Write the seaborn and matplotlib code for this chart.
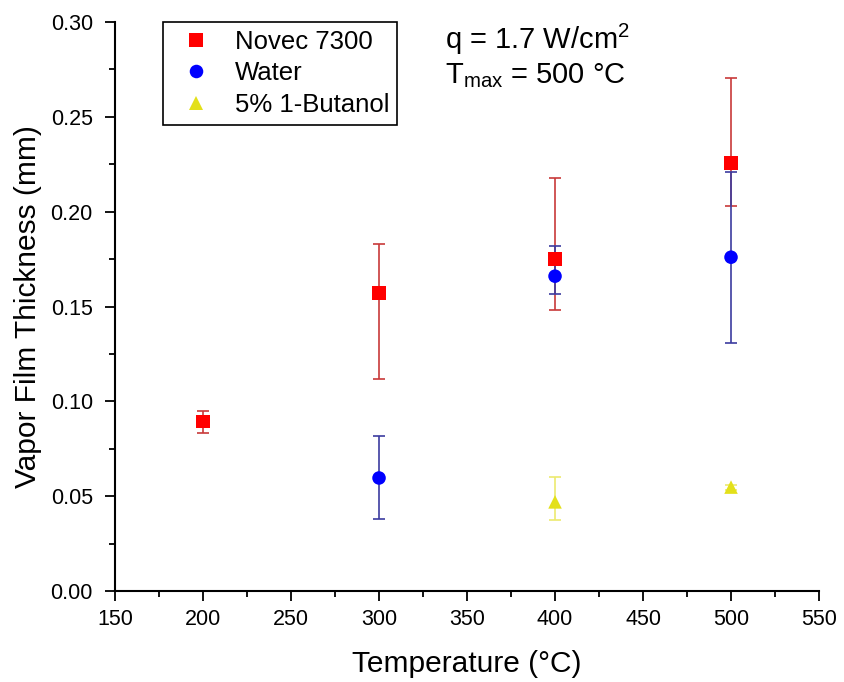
import numpy as np
import pandas as pd
import matplotlib
matplotlib.use("Agg")
import matplotlib.pyplot as plt
import seaborn as sns
from matplotlib.ticker import MultipleLocator

# data
novec_temp = [200, 300, 400, 500]
novec_mean = [0.0895, 0.157, 0.175, 0.2257]
novec_lo = [0.0833, 0.112, 0.148, 0.203]
novec_hi = [0.0949, 0.183, 0.2177, 0.2705]

water_temp = [300, 400, 500]
water_mean = [0.0596, 0.166, 0.176]
water_lo = [0.038, 0.1566, 0.131]
water_hi = [0.0817, 0.182, 0.221]

butanol_temp = [400, 500]
butanol_mean = [0.047, 0.0548]
butanol_lo = [0.0374, 0.0535]
butanol_hi = [0.0601, 0.0560]

labels = ["Novec 7300", "Water", "5% 1-Butanol"]
colors = {"Novec 7300": "#ff0000", "Water": "#0000ff", "5% 1-Butanol": "#e3e01a"}
err_colors = {"Novec 7300": "#c8393a", "Water": "#3c3ca0", "5% 1-Butanol": "#ecea70"}
markers = {"Novec 7300": "s", "Water": "o", "5% 1-Butanol": "^"}

df = pd.concat([
    pd.DataFrame({"fluid": labels[0], "T": novec_temp, "d": novec_mean, "lo": novec_lo, "hi": novec_hi}),
    pd.DataFrame({"fluid": labels[1], "T": water_temp, "d": water_mean, "lo": water_lo, "hi": water_hi}),
    pd.DataFrame({"fluid": labels[2], "T": butanol_temp, "d": butanol_mean, "lo": butanol_lo, "hi": butanol_hi}),
], ignore_index=True)

sns.set_style("ticks", {"axes.edgecolor": "black", "text.color": "black",
                        "axes.labelcolor": "black", "xtick.color": "black",
                        "ytick.color": "black"})
plt.rcParams["font.family"] = ["Liberation Sans", "DejaVu Sans"]
plt.rcParams["mathtext.fontset"] = "custom"
plt.rcParams["mathtext.rm"] = "Liberation Sans"
plt.rcParams["mathtext.it"] = "Liberation Sans"

fig = plt.figure(figsize=(8.44, 6.82), dpi=100)
ax = fig.add_axes([0.1363, 0.1334, 0.8341, 0.8343])

# error bars first, markers on top
for fluid in labels:
    sub = df[df["fluid"] == fluid]
    ax.errorbar(
        sub["T"], sub["d"],
        yerr=[sub["d"] - sub["lo"], sub["hi"] - sub["d"]],
        fmt="none", ecolor=err_colors[fluid], elinewidth=1.2,
        capsize=4.5, capthick=1.2, zorder=2,
    )

sns.scatterplot(
    data=df, x="T", y="d", hue="fluid", style="fluid",
    palette=colors, markers=markers, hue_order=labels, style_order=labels,
    s=95, edgecolor="none", linewidth=0, ax=ax, zorder=3,
)

ax.set_xlim(150, 550)
ax.set_ylim(0, 0.30)
ax.xaxis.set_major_locator(MultipleLocator(50))
ax.xaxis.set_minor_locator(MultipleLocator(25))
ax.yaxis.set_major_locator(MultipleLocator(0.05))
ax.yaxis.set_minor_locator(MultipleLocator(0.025))
ax.yaxis.set_major_formatter(matplotlib.ticker.FormatStrFormatter("%.2f"))
ax.tick_params(which="major", length=7, width=1.3, labelsize=15.5, direction="out")
ax.tick_params(axis="y", which="major", pad=9)
ax.tick_params(axis="x", which="major", pad=6)
ax.tick_params(which="minor", length=4, width=1.3, direction="out")
for s in ["left", "bottom"]:
    ax.spines[s].set_linewidth(1.5)
sns.despine(ax=ax)

ax.set_xlabel("Temperature (°C)", fontsize=21.5, labelpad=14)
ax.set_ylabel("Vapor Film Thickness (mm)", fontsize=21.5, labelpad=6)

leg = ax.legend(
    loc="upper left", bbox_to_anchor=(0.068, 1.0), fontsize=18.5, frameon=True,
    fancybox=False, edgecolor="black", framealpha=1.0, handletextpad=0.5,
    borderpad=0.3, labelspacing=0.3, markerscale=1.0, handlelength=2.0,
    borderaxespad=0,
)
leg.get_frame().set_linewidth(1.2)

ax.text(0.468, 1.0, "q = 1.7 W/cm$^2$", transform=ax.transAxes, fontsize=21,
        va="top", ha="left")
ax.text(0.468, 0.932, "T$_{\\mathrm{max}}$ = 500 °C", transform=ax.transAxes, fontsize=21,
        va="top", ha="left")

fig.savefig("out.png", dpi=100)
